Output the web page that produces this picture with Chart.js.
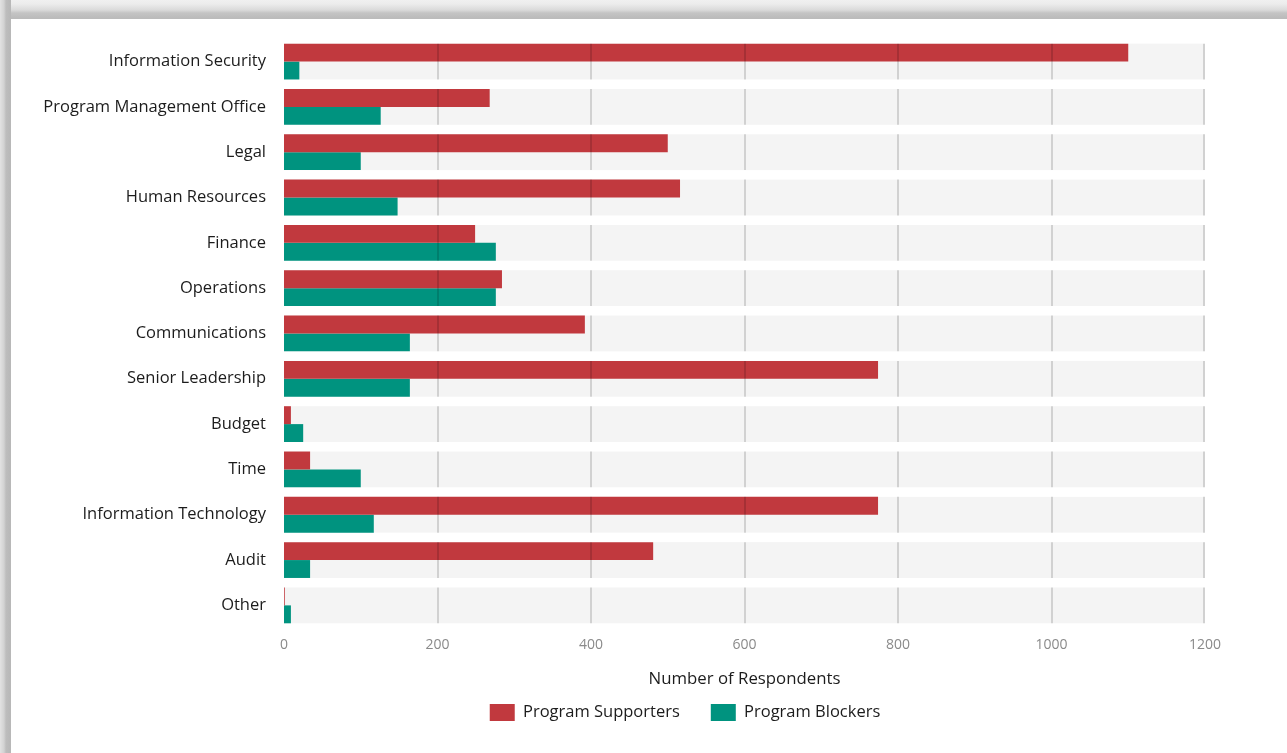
<!DOCTYPE html>
<html>
<head>
<meta charset="utf-8">
<script src="https://cdn.jsdelivr.net/npm/chart.js@4/dist/chart.umd.min.js"></script>
<style>
  html, body { margin: 0; padding: 0; background: #fff; overflow: hidden; }
  body { width: 1287px; height: 753px; position: relative; }
  .edge-top { position: absolute; left: 0; top: 0; width: 1287px; height: 19px;
    background: linear-gradient(#f0f0f0 0px, #ececec 4px, #dadada 10px, #c4c4c4 13px, #bbbbbb 18px); }
  .edge-left { position: absolute; left: 0; top: 0; width: 11px; height: 753px;
    background: linear-gradient(90deg, #e2e2e2 0px, #d2d2d2 4px, #bdbdbd 6px, #b8b8b8 10px); }
  #wrap { position: absolute; left: 11px; top: 19px; width: 1276px; height: 734px; background: #fff; }
</style>
</head>
<body>
<div class="edge-top"></div>
<div class="edge-left"></div>
<div id="wrap"><canvas id="chart"></canvas></div>
<script>
// Who supports / blocks the program, by department
const departments = [
  'Information Security', 'Program Management Office', 'Legal', 'Human Resources',
  'Finance', 'Operations', 'Communications', 'Senior Leadership', 'Budget', 'Time',
  'Information Technology', 'Audit', 'Other'
];
const supporters = [1100, 268, 500, 516, 249, 284, 392, 774, 9, 34, 774, 481, 1];
const blockers = [20, 126, 100, 148, 276, 276, 164, 164, 25, 100, 117, 34, 9];
const xTicks = [0, 200, 400, 600, 800, 1000, 1200];

const RED = '#c1393e';
const TEAL = '#00937f';
const CAT_PCT = 0.79;
const FONT = '"Open Sans", Lato, sans-serif';

// grey band behind each category, and the vertical grid drawn only inside the bands
const bandPlugin = {
  id: 'bands',
  bandRect(chart, i) {
    const y = chart.scales.y;
    const step = (y.bottom - y.top) / departments.length;
    const h = step * CAT_PCT;
    const c = y.getPixelForValue(i);
    return { top: c - h / 2, h: h };
  },
  beforeDatasetsDraw(chart) {
    const ctx = chart.ctx;
    const x = chart.scales.x;
    ctx.save();
    ctx.fillStyle = '#f4f4f4';
    departments.forEach((d, i) => {
      const b = this.bandRect(chart, i);
      ctx.fillRect(x.left, b.top, x.right - x.left, b.h);
    });
    ctx.restore();
  },
  afterDatasetsDraw(chart) {
    const ctx = chart.ctx;
    const x = chart.scales.x;
    ctx.save();
    ctx.strokeStyle = 'rgba(0,0,0,0.14)';
    ctx.lineWidth = 2;
    xTicks.forEach(v => {
      if (v === 0) return;
      const px = Math.round(x.getPixelForValue(v)) - (v === xTicks[xTicks.length - 1] ? 1 : 0);
      departments.forEach((d, i) => {
        const b = this.bandRect(chart, i);
        ctx.beginPath();
        ctx.moveTo(px, b.top);
        ctx.lineTo(px, b.top + b.h);
        ctx.stroke();
      });
    });
    ctx.restore();
  },
  // legend sits right of the canvas centre
  afterLayout(chart) {
    if (chart.legend) {
      chart.legend.left += 77;
      chart.legend.right += 77;
    }
  }
};

const ctx = document.getElementById('chart').getContext('2d');
const chart = new Chart(ctx, {
  type: 'bar',
  data: {
    labels: departments,
    datasets: [
      { label: 'Program Supporters', data: supporters, backgroundColor: RED, categoryPercentage: CAT_PCT, barPercentage: 1 },
      { label: 'Program Blockers', data: blockers, backgroundColor: TEAL, categoryPercentage: CAT_PCT, barPercentage: 1 }
    ]
  },
  options: {
    indexAxis: 'y',
    responsive: true,
    maintainAspectRatio: false,
    animation: false,
    layout: { padding: { top: 0, right: 82, bottom: 22, left: 0 } },
    plugins: {
      tooltip: { enabled: false },
      legend: {
        position: 'bottom',
        labels: {
          boxWidth: 25,
          boxHeight: 17,
          padding: 31,
          color: '#1c1c1c',
          font: { family: FONT, size: 16.5 }
        }
      }
    },
    scales: {
      x: {
        min: 0,
        max: 1200,
        afterBuildTicks: axis => { axis.ticks = xTicks.map(v => ({ value: v })); },
        grid: { display: false },
        border: { display: false },
        ticks: {
          color: '#8a8a8a',
          padding: 1,
          font: { family: FONT, size: 14 },
          callback: v => String(v)
        },
        title: {
          display: true,
          text: 'Number of Respondents',
          color: '#1c1c1c',
          padding: { top: 14, bottom: -16 },
          font: { family: FONT, size: 16.8 }
        }
      },
      y: {
        afterFit: axis => { axis.width = 273; },
        grid: { display: false },
        border: { display: false },
        ticks: { color: '#1c1c1c', padding: 10, font: { family: FONT, size: 16.5 } }
      }
    }
  },
  plugins: [bandPlugin]
});
</script>
</body>
</html>
